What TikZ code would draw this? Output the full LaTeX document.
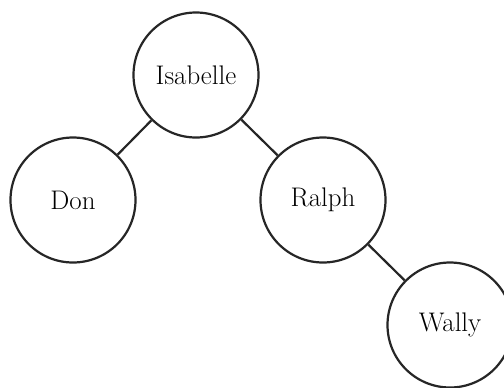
\documentclass[tikz,border=0pt]{standalone}
\begin{document}
\begin{tikzpicture}[x=1bp,y=-1bp,
  person/.style={circle,draw=black!85,line width=2.2bp,minimum size=125bp,inner sep=0pt,
    font=\fontsize{27}{31}\selectfont},
  link/.style={draw=black!85,line width=2.2bp}]
  \clip (0,0) rectangle (504,387);
  \fill[white] (0,0) rectangle (504,387);
  % tree nodes
  \node[person] (isabelle) at (196,75) {Isabelle};
  \node[person] (don)      at (73,200) {Don};
  \node[person] (ralph)    at (323,200) {Ralph};
  \node[person] (wally)    at (450,325) {Wally};
  % parent-child links
  \draw[link] (isabelle) -- (don);
  \draw[link] (isabelle) -- (ralph);
  \draw[link] (ralph) -- (wally);
\end{tikzpicture}
\end{document}
